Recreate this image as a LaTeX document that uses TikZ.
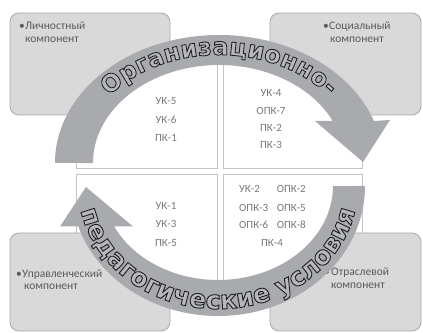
\documentclass[tikz,border=0pt]{standalone}
\usepackage{fontspec}
\setmainfont{Carlito}
\newfontfamily\bigfontB[FakeBold=3.5]{DejaVu Sans Bold}
\usetikzlibrary{decorations.text}
\definecolor{bandc}{RGB}{168,170,174}
\definecolor{boxfill}{RGB}{217,217,217}
\definecolor{boxline}{RGB}{170,170,170}
\definecolor{celline}{RGB}{196,196,196}
\definecolor{boxtext}{RGB}{90,90,90}
\definecolor{celltext}{RGB}{120,120,120}
\definecolor{letterfill}{RGB}{182,184,188}
\newcommand\strokedark{\special{pdf:literal direct 0.12 0.12 0.12 RG}}
\newcommand\bigsizeA{\fontsize{24}{30}\selectfont}
\newcommand\bigsizeB{\fontsize{25.5}{30}\selectfont}
\newcommand\drawcells{%
  \draw[cell] (76,163) rectangle (217,278);
  \draw[cell] (223,163) rectangle (362,278);
  \draw[cell] (76,42) rectangle (217,157);
  \draw[cell] (223,42) rectangle (362,157);}
\begin{document}
\begin{tikzpicture}[x=1pt,y=1pt,
  cornerbox/.style={fill=boxfill, draw=boxline, line width=0.8pt, rounded corners=9pt},
  cell/.style={fill=white, draw=celline, line width=1pt},
  boxlabel/.style={anchor=base west, inner sep=0pt, text=boxtext, font=\fontsize{11.5}{13}\selectfont},
  cellabel/.style={anchor=base, inner sep=0pt, text=celltext, font=\fontsize{11}{13}\selectfont},
  band/.style={fill=bandc}]
\useasboundingbox (0,0) rectangle (423,332);
\fill[white] (0,0) rectangle (423,332);
% central cells (first pass)
\drawcells
% corner boxes
\draw[cornerbox] (10,217) rectangle (170,319);
\draw[cornerbox] (270,217) rectangle (421,319);
\draw[cornerbox] (10,1) rectangle (170,99);
\draw[cornerbox] (270,1) rectangle (421,99);
% cells over boxes inside the ring
\begin{scope}
  \clip (219,169) ellipse[x radius=126, y radius=98] (218,146) ellipse[x radius=115, y radius=94];
  \drawcells
\end{scope}
% corner texts
\node[boxlabel] (b1) at (19,302) {•};
\node[boxlabel] (t1a) at (25,302) {Личностный};
\node[boxlabel] (t1b) at (25,289) {компонент};
\node[boxlabel] (b2) at (323,302) {•};
\node[boxlabel] (t2a) at (329,302) {Социальный};
\node[boxlabel] (t2b) at (330,289) {компонент};
\node[boxlabel] (b3) at (16,54) {•};
\node[boxlabel] (t3a) at (22,54) {Управленческий};
\node[boxlabel] (t3b) at (24,42) {компонент};
\node[boxlabel] (b4) at (324,56) {•};
\node[boxlabel] (t4a) at (331,56) {Отраслевой};
\node[boxlabel] (t4b) at (331,43) {компонент};
% cell texts
\node[cellabel] (c1a) at (166,227) {УК-5};
\node[cellabel] (c1b) at (166,208.5) {УК-6};
\node[cellabel] (c1c) at (166,190) {ПК-1};
\node[cellabel] (c2a) at (271,235) {УК-4};
\node[cellabel] (c2b) at (271,217) {ОПК-7};
\node[cellabel] (c2c) at (271,200) {ПК-2};
\node[cellabel] (c2d) at (271,183) {ПК-3};
\node[cellabel] (c3a) at (166,122) {УК-1};
\node[cellabel] (c3b) at (166,104) {УК-3};
\node[cellabel] (c3c) at (166,85) {ПК-5};
\node[cellabel, anchor=base west] (c4a) at (239,139) {УК-2};
\node[cellabel, anchor=base east] (c4b) at (306,139) {ОПК-2};
\node[cellabel, anchor=base west] (c4c) at (239,120) {ОПК-3};
\node[cellabel, anchor=base east] (c4d) at (306,120) {ОПК-5};
\node[cellabel, anchor=base west] (c4e) at (239,103) {ОПК-6};
\node[cellabel, anchor=base east] (c4f) at (306,103) {ОПК-8};
\node[cellabel] (c4g) at (272,85) {ПК-4};
% top circular arrow
\fill[band] (55,169) arc[start angle=180, end angle=19.16, x radius=164, y radius=128]
  -- (390,212) -- (363,170) -- (315,211) -- (332.8,211)
  arc[start angle=25.38, end angle=180, x radius=126, y radius=98] -- cycle;
% bottom circular arrow
\fill[band] (365,146) arc[start angle=0, end angle=-161.85, x radius=147, y radius=130]
  -- (60,105.5) -- (86,145) -- (133,105.5) -- (114.2,105.5)
  arc[start angle=-154.48, end angle=0, x radius=115, y radius=94] -- cycle;
% curved texts (outlined letters)
\coordinate (ta) at (81.1,187.8);
\coordinate (tb) at (78.5,135.3);
\path[decorate, decoration={text along path, text align=center,
  text={|\bigfontB\bigsizeA\color{letterfill}\strokedark|Организационно-}}]
  (ta) arc[start angle=170, end angle=10, x radius=140, y radius=108];
\path[decorate, decoration={text along path, text align=center,
  text={|\bigfontB\bigsizeB\color{letterfill}\strokedark|педагогические условия}}]
  (tb) arc[start angle=185, end angle=355, x radius=140, y radius=123];
\end{tikzpicture}
\end{document}
